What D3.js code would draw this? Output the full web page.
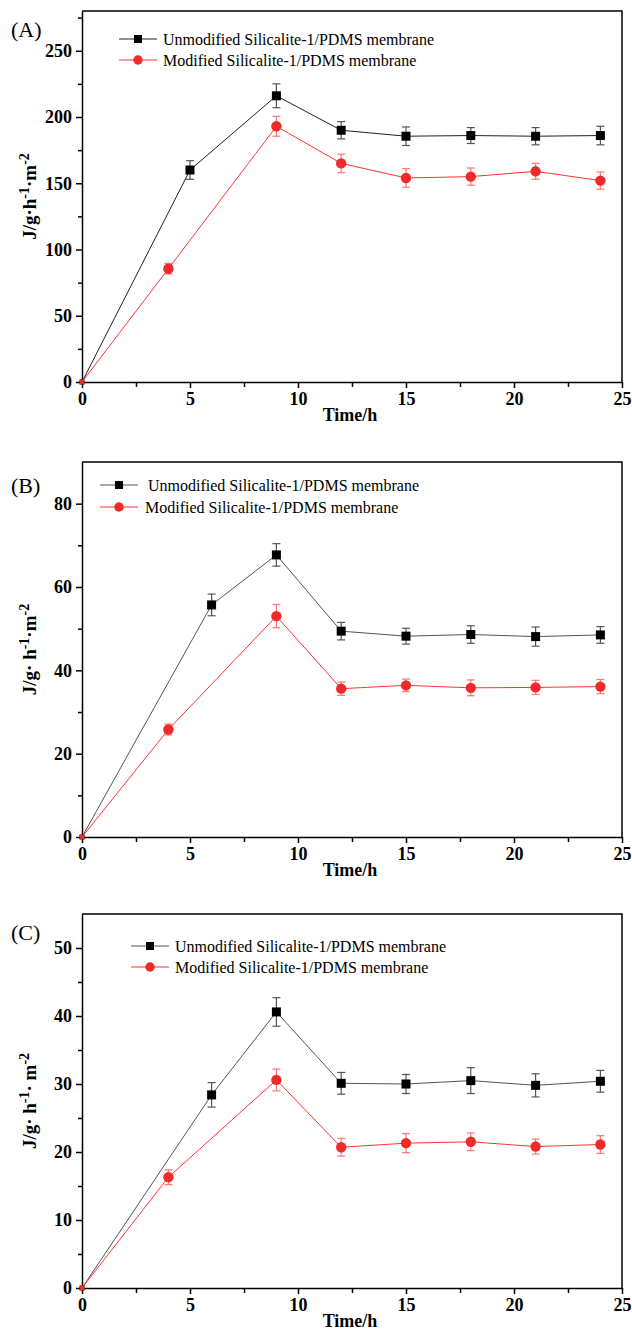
<!DOCTYPE html>
<meta charset="utf-8">
<style>
  body { margin: 0; background: #fff; }
  svg { display: block; font-family: "Liberation Serif", "Times New Roman", serif; }
  .axis { font-family: "Liberation Serif", "Times New Roman", serif; }
  .tick text { font-weight: bold; font-size: 18px; fill: #000; font-family: "Liberation Serif", "Times New Roman", serif; }
  .axis path, .axis line { stroke: #000; stroke-width: 1.5; }
</style>
<body>
<svg width="632" height="1331"></svg>
<script src="https://cdn.jsdelivr.net/npm/d3@7"></script>
<script>
// ---- data ----
var xTicks = [0, 5, 10, 15, 20, 25];
var seriesNames = ["Unmodified Silicalite-1/PDMS membrane", "Modified Silicalite-1/PDMS membrane"];

// panel A
var timeA_unmod = [0, 5, 9, 12, 15, 18, 21, 24];
var fluxA_unmod = [0, 160, 216, 190, 185.5, 186, 185.5, 186];
var errA_unmod  = [0, 7, 9, 6.5, 7, 6, 6.5, 7];
var timeA_mod   = [0, 4, 9, 12, 15, 18, 21, 24];
var fluxA_mod   = [0, 85.5, 193, 165, 154, 155, 159, 152];
var errA_mod    = [0, 4, 7.5, 7, 7, 6.5, 6, 6.5];
var yTicksA = [0, 50, 100, 150, 200, 250];

// panel B
var timeB_unmod = [0, 6, 9, 12, 15, 18, 21, 24];
var fluxB_unmod = [0, 55.7, 67.7, 49.4, 48.2, 48.6, 48.1, 48.5];
var errB_unmod  = [0, 2.6, 2.7, 2.1, 1.9, 2.1, 2.3, 2.0];
var timeB_mod   = [0, 4, 9, 12, 15, 18, 21, 24];
var fluxB_mod   = [0, 25.8, 53.0, 35.6, 36.4, 35.8, 35.9, 36.1];
var errB_mod    = [0, 1.3, 2.8, 1.6, 1.5, 1.9, 1.7, 1.7];
var yTicksB = [0, 20, 40, 60, 80];

// panel C
var timeC_unmod = [0, 6, 9, 12, 15, 18, 21, 24];
var fluxC_unmod = [0, 28.4, 40.6, 30.1, 30.0, 30.5, 29.8, 30.4];
var errC_unmod  = [0, 1.8, 2.1, 1.6, 1.4, 1.9, 1.7, 1.6];
var timeC_mod   = [0, 4, 9, 12, 15, 18, 21, 24];
var fluxC_mod   = [0, 16.3, 30.6, 20.7, 21.3, 21.5, 20.8, 21.1];
var errC_mod    = [0, 1.1, 1.6, 1.3, 1.4, 1.3, 1.1, 1.3];
var yTicksC = [0, 10, 20, 30, 40, 50];

function zip(t, v, e) { return t.map(function(d, i) { return {t: d, v: v[i], e: e[i]}; }); }

// layout for each panel
var panels = [
  {tag: "(A)", tagY: 37, top: 11, bottom: 382, ymax: 280, yTicks: yTicksA, yMinor: 25,
   unmod: zip(timeA_unmod, fluxA_unmod, errA_unmod), mod: zip(timeA_mod, fluxA_mod, errA_mod),
   legX: 119, legText: [163, 163], legY: [39, 60], ylab: ["J/g·h", "-1", "·m", "-2"],
   lineCol: "#222"},
  {tag: "(B)", tagY: 493, top: 462, bottom: 837, ymax: 90, yTicks: yTicksB, yMinor: 10,
   unmod: zip(timeB_unmod, fluxB_unmod, errB_unmod), mod: zip(timeB_mod, fluxB_mod, errB_mod),
   legX: 100, legText: [148, 145], legY: [485, 507], ylab: ["J/g· h", "-1", "·m", "-2"],
   lineCol: "#555"},
  {tag: "(C)", tagY: 940, top: 914, bottom: 1288, ymax: 55, yTicks: yTicksC, yMinor: 5,
   unmod: zip(timeC_unmod, fluxC_unmod, errC_unmod), mod: zip(timeC_mod, fluxC_mod, errC_mod),
   legX: 131, legText: [175, 175], legY: [946, 967], ylab: ["J/g· h", "-1", "· m", "-2"],
   lineCol: "#555"}
];

var svg = d3.select("svg");
var left = 82, right = 622;
var x = d3.scaleLinear().domain([0, 25]).range([left, right]);

panels.forEach(function(p) {
  var y = d3.scaleLinear().domain([0, p.ymax]).range([p.bottom, p.top]);
  var g = svg.append("g");

  // minor ticks
  g.append("g").attr("class", "axis")
    .attr("transform", "translate(0," + p.bottom + ")")
    .call(d3.axisBottom(x).tickValues(d3.range(2.5, 25, 5)).tickSize(5).tickFormat(""))
    .select(".domain").remove();
  g.append("g").attr("class", "axis")
    .attr("transform", "translate(" + left + ",0)")
    .call(d3.axisLeft(y).tickValues(d3.range(p.yMinor, p.ymax, p.yMinor * 2)).tickSize(4).tickFormat(""))
    .select(".domain").remove();

  // major axes
  g.append("g").attr("class", "axis")
    .attr("transform", "translate(0," + p.bottom + ")")
    .call(d3.axisBottom(x).tickValues(xTicks).tickSize(6).tickSizeOuter(0).tickPadding(4));
  g.append("g").attr("class", "axis")
    .attr("transform", "translate(" + left + ",0)")
    .call(d3.axisLeft(y).tickValues(p.yTicks).tickSize(6).tickSizeOuter(0).tickPadding(4));
  g.selectAll(".axis").attr("font-family", null).attr("font-size", null);

  // frame top & right
  g.append("path")
    .attr("d", "M" + left + "," + p.top + "H" + right + "V" + p.bottom)
    .attr("fill", "none").attr("stroke", "#000").attr("stroke-width", 1.5);

  // titles
  g.append("text").attr("x", 11).attr("y", p.tagY)
    .attr("font-size", 22).text(p.tag);
  g.append("text").attr("x", (left + right) / 2 - 2).attr("y", p.bottom + 39)
    .attr("text-anchor", "middle").attr("font-size", 18).attr("font-weight", "bold").text("Time/h");

  var yl = g.append("text")
    .attr("transform", "translate(36," + (p.top + p.bottom) / 2 + ") rotate(-90)")
    .attr("text-anchor", "middle").attr("font-size", 19).attr("font-weight", "bold");
  p.ylab.forEach(function(s, i) {
    var ts = yl.append("tspan").text(s);
    if (i % 2 == 1) ts.attr("dy", -7).attr("font-size", 14);
    else if (i > 0) ts.attr("dy", 7);
  });

  var line = d3.line().x(function(d) { return x(d.t); }).y(function(d) { return y(d.v); });

  var defs = [
    {data: p.unmod, col: p.lineCol, err: "#555", mark: "square", fill: "#000"},
    {data: p.mod, col: "#f33", err: "#f77", mark: "circle", fill: "#ee2b2b"}
  ];

  defs.forEach(function(s) {
    g.append("path").datum(s.data).attr("d", line)
      .attr("fill", "none").attr("stroke", s.col).attr("stroke-width", 1);

    var eb = g.append("g").selectAll("g").data(s.data.filter(function(d) { return d.e > 0; }))
      .enter().append("g").attr("stroke", s.err).attr("stroke-width", 1.2);
    eb.append("line")
      .attr("x1", function(d) { return x(d.t); }).attr("x2", function(d) { return x(d.t); })
      .attr("y1", function(d) { return y(d.v - d.e); }).attr("y2", function(d) { return y(d.v + d.e); });
    [-1, 1].forEach(function(sg) {
      eb.append("line")
        .attr("x1", function(d) { return x(d.t) - 4; }).attr("x2", function(d) { return x(d.t) + 4; })
        .attr("y1", function(d) { return y(d.v + sg * d.e); }).attr("y2", function(d) { return y(d.v + sg * d.e); });
    });

    g.append("g").selectAll("path").data(s.data).enter().append("path")
      .attr("transform", function(d) { return "translate(" + x(d.t) + "," + y(d.v) + ")"; })
      .attr("fill", s.fill)
      .attr("d", function(d) {
        var big = d.t > 0;
        if (s.mark == "square") {
          var h = big ? 4.5 : 2.5;
          return "M" + -h + "," + -h + "h" + 2 * h + "v" + 2 * h + "h" + -2 * h + "Z";
        }
        return d3.symbol(d3.symbolCircle, big ? 85 : 20)();
      });
  });

  // legend
  defs.forEach(function(s, i) {
    var ly = p.legY[i];
    g.append("line").attr("x1", p.legX).attr("x2", p.legX + 38).attr("y1", ly).attr("y2", ly)
      .attr("stroke", s.col).attr("stroke-width", 1);
    g.append("path").attr("transform", "translate(" + (p.legX + 19) + "," + ly + ")")
      .attr("fill", s.fill)
      .attr("d", s.mark == "square" ? "M-4,-4h8v8h-8Z" : d3.symbol(d3.symbolCircle, 70)());
    g.append("text").attr("x", p.legText[i]).attr("y", ly + 5.5)
      .attr("font-size", 16).text(seriesNames[i]);
  });
});
</script>
</body>
